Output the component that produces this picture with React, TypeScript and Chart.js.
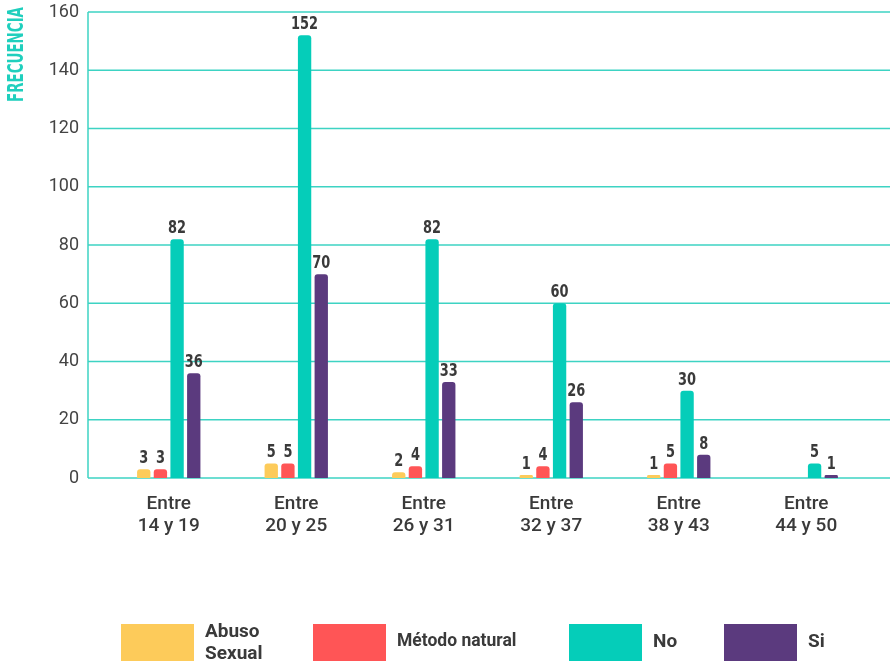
import React, { useEffect, useRef } from "react";
import { Chart, registerables } from "chart.js";

Chart.register(...registerables);

const categories: string[][] = [
  ["Entre", "14 y 19"],
  ["Entre", "20 y 25"],
  ["Entre", "26 y 31"],
  ["Entre", "32 y 37"],
  ["Entre", "38 y 43"],
  ["Entre", "44 y 50"],
];
const abusoSexual = [3, 5, 2, 1, 1, 0];
const metodoNatural = [3, 5, 4, 4, 5, 0];
const no = [82, 152, 82, 60, 30, 5];
const si = [36, 70, 33, 26, 8, 1];
const seriesNames = ["Abuso Sexual", "Método natural", "No", "Si"];
const legendLines: string[][] = [["Abuso", "Sexual"], ["Método natural"], ["No"], ["Si"]];
const colors = ["#FDCB5A", "#FF5556", "#05CDB9", "#5B3A7E"];
const yMax = 160;
const yStep = 20;
const axisTitle = "FRECUENCIA";

const GRID = "#3dd3c3";
const TEXT = "#3a3a3a";
const NARROW = '"DejaVu Sans Condensed", "Liberation Sans Narrow", sans-serif';

const decorPlugin = {
  id: "decor",
  beforeDatasetsDraw(chart: any) {
    const ctx = chart.ctx;
    const y = chart.scales.y;
    ctx.save();
    ctx.strokeStyle = GRID;
    ctx.lineWidth = 1.5;
    for (let v = 0; v <= yMax; v += yStep) {
      const py = y.getPixelForValue(v);
      ctx.beginPath();
      ctx.moveTo(88, py);
      ctx.lineTo(chart.width, py);
      ctx.stroke();
    }
    ctx.beginPath();
    ctx.moveTo(88, y.getPixelForValue(yMax));
    ctx.lineTo(88, y.getPixelForValue(0));
    ctx.stroke();
    ctx.restore();
  },
  afterDatasetsDraw(chart: any) {
    const ctx = chart.ctx;
    chart.data.datasets.forEach((ds: any, i: number) => {
      const meta = chart.getDatasetMeta(i);
      meta.data.forEach((el: any, j: number) => {
        const v = ds.data[j];
        if (v > 0) {
          ctx.save();
          ctx.translate(el.x, el.y - 6);
          ctx.scale(0.8, 1);
          ctx.fillStyle = TEXT;
          ctx.font = `bold 18px ${NARROW}`;
          ctx.textAlign = "center";
          ctx.textBaseline = "alphabetic";
          ctx.fillText(String(v), 0, 0);
          ctx.restore();
        }
      });
    });
  },
  afterDraw(chart: any) {
    const ctx = chart.ctx;
    ctx.save();
    ctx.translate(17, 54.5);
    ctx.rotate(-Math.PI / 2);
    ctx.font = `bold 22px ${NARROW}`;
    const w = ctx.measureText(axisTitle).width;
    ctx.scale(95 / w, 1);
    ctx.fillStyle = "#1fcfbd";
    ctx.textAlign = "center";
    ctx.textBaseline = "middle";
    ctx.fillText(axisTitle, 0, 0);
    ctx.restore();

    const boxX = [121, 313, 569, 724];
    ctx.save();
    ctx.textBaseline = "middle";
    ctx.textAlign = "left";
    for (let i = 0; i < seriesNames.length; i++) {
      ctx.fillStyle = colors[i];
      ctx.fillRect(boxX[i], 624, 73, 37);
      ctx.fillStyle = TEXT;
      const lines = legendLines[i];
      ctx.font = i === 1 ? "bold 17.5px Roboto" : "bold 19px Roboto";
      if (lines.length === 2) {
        ctx.fillText(lines[0], boxX[i] + 84, 632);
        ctx.fillText(lines[1], boxX[i] + 84, 654);
      } else {
        ctx.fillText(lines[0], boxX[i] + 84, 642);
      }
    }
    ctx.restore();
  },
};

export default function App() {
  const ref = useRef<HTMLCanvasElement>(null);
  useEffect(() => {
    if (!ref.current) return;
    const series = [abusoSexual, metodoNatural, no, si];
    const chart = new Chart(ref.current, {
      type: "bar",
      data: {
        labels: categories,
        datasets: series.map((d, i) => ({
          label: seriesNames[i],
          data: d,
          backgroundColor: colors[i],
          borderRadius: 3,
          categoryPercentage: 0.523,
          barPercentage: 0.8,
        })),
      },
      options: {
        animation: false,
        responsive: false,
        layout: { padding: { left: 0, right: 20, top: 12, bottom: 0 } },
        plugins: { legend: { display: false }, tooltip: { enabled: false } },
        scales: {
          x: {
            grid: { display: false },
            border: { display: false },
            ticks: {
              color: TEXT,
              font: { family: "Roboto", size: 19, weight: "500", lineHeight: 1.17 },
              padding: 7,
              maxRotation: 0,
              autoSkip: false,
            },
            afterFit: (s: any) => {
              s.height = 185;
            },
          },
          y: {
            min: 0,
            max: yMax,
            grid: { display: false, drawTicks: false },
            border: { display: false },
            ticks: {
              stepSize: yStep,
              color: "#444",
              font: { family: "Roboto", size: 18 },
              padding: 26,
            },
            afterFit: (s: any) => {
              s.width = 105;
              s.paddingTop = 0;
              s.paddingBottom = 0;
            },
          },
        },
      },
      plugins: [decorPlugin],
    } as any);
    return () => chart.destroy();
  }, []);
  return (
    <div style={{ position: "absolute", left: 0, top: 0, width: 890, height: 663, background: "#fff" }}>
      <canvas ref={ref} width={890} height={663} />
    </div>
  );
}
